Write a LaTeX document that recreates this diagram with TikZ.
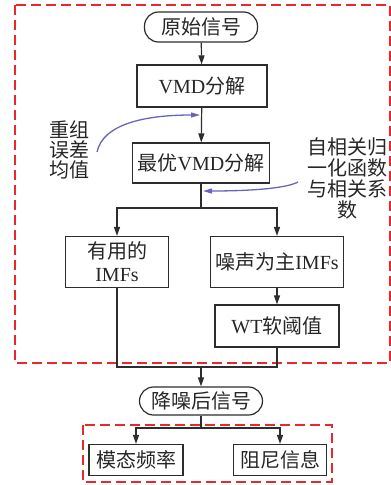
\documentclass[tikz,border=0pt]{standalone}
\usepackage{fontspec}
\setmainfont{Liberation Serif}
\newfontfamily\cjk{Noto Sans CJK SC}
\usetikzlibrary{arrows.meta,calc}
\definecolor{linec}{RGB}{45,45,45}
\definecolor{redd}{RGB}{232,40,45}
\definecolor{bluec}{RGB}{105,100,190}
\newcommand\myfs{\fontsize{20}{21}\selectfont}
\begin{document}
\begin{tikzpicture}[x=1pt,y=-1pt,
  box/.style={draw=linec,line width=1.2pt,inner sep=0pt,align=center,font=\myfs,text=black!85},
  stad/.style={box,rounded corners=14pt},
  arr/.style={draw=linec,line width=1.2pt,-{Triangle[length=9pt,width=6pt]}},
  ln/.style={draw=linec,line width=1.2pt},
  barr/.style={draw=bluec,line width=1.3pt,-{Triangle[length=9pt,width=5pt]}},
  rdash/.style={draw=redd,line width=1.3pt,dash pattern=on 10pt off 5pt},
  lbl/.style={inner sep=0pt,align=center,font=\myfs,text=black!85}]
\useasboundingbox (0,0) rectangle (391,485);
% red dashed frames
\draw[rdash] (15,5) rectangle (390,363);
\draw[rdash] (83,425) rectangle (332,482);
% nodes
\node[stad,minimum width=113pt,minimum height=30pt] (n1) at (201,27) {\cjk 原始信号};
\node[box,minimum width=130pt,minimum height=42pt] (n2) at (202,86) {VMD{\cjk 分解}};
\node[box,minimum width=137pt,minimum height=40pt] (n3) at (201,163) {{\cjk 最优}VMD{\cjk 分解}};
\node[box,minimum width=103pt,minimum height=51pt,font=\fontsize{20}{23}\selectfont] (n4) at (117,262) {{\cjk 有用的}\\IMFs};
\node[box,minimum width=133pt,minimum height=51pt] (n5) at (277,262) {{\cjk 噪声为主}IMFs};
\node[box,minimum width=124pt,minimum height=42pt] (n6) at (277,326) {WT{\cjk 软阈值}};
\node[stad,minimum width=123pt,minimum height=28pt] (n7) at (201,401) {\cjk 降噪后信号};
\node[box,minimum width=94pt,minimum height=31pt] (n8) at (136,460) {\cjk 模态频率};
\node[box,minimum width=93pt,minimum height=31pt] (n9) at (280,460) {\cjk 阻尼信息};
% labels
\node[lbl,font=\fontsize{20}{20}\selectfont] (t1) at (69,150) {\cjk 重组\\\cjk 误差\\\cjk 均值};
\node[lbl] (t2) at (347,178.5) {\cjk 自相关归\\\cjk 一化函数\\\cjk 与相关系\\\cjk 数};
% connectors
\draw[arr] (n1) -- (n2);
\draw[arr] (n2) -- (n3);
\coordinate (b1) at (201,208);
\draw[ln] (n3.south) -- (b1);
\draw[arr] (b1) -| (n4.north);
\draw[arr] (b1) -| (n5.north);
\draw[arr] (n5) -- (n6);
\coordinate (m1) at (201,367);
\draw[ln] (n4.south) |- (m1);
\draw[ln] (n6.south) |- (m1);
\draw[arr] (m1) -- (n7.north);
\coordinate (b2) at (201,428);
\draw[ln] (n7.south) -- (b2);
\draw[arr] (b2) -| (n8.north);
\draw[arr] (b2) -| (n9.north);
% blue curved arrows
\coordinate (c1) at (97,152);
\coordinate (c2) at (200,115);
\draw[barr] (c1) .. controls (103,124) and (145,115) .. (c2);
\coordinate (c3) at (298,182);
\coordinate (c4) at (203,191);
\draw[barr] (c3) .. controls (285,189) and (245,191) .. (c4);
\end{tikzpicture}
\end{document}
